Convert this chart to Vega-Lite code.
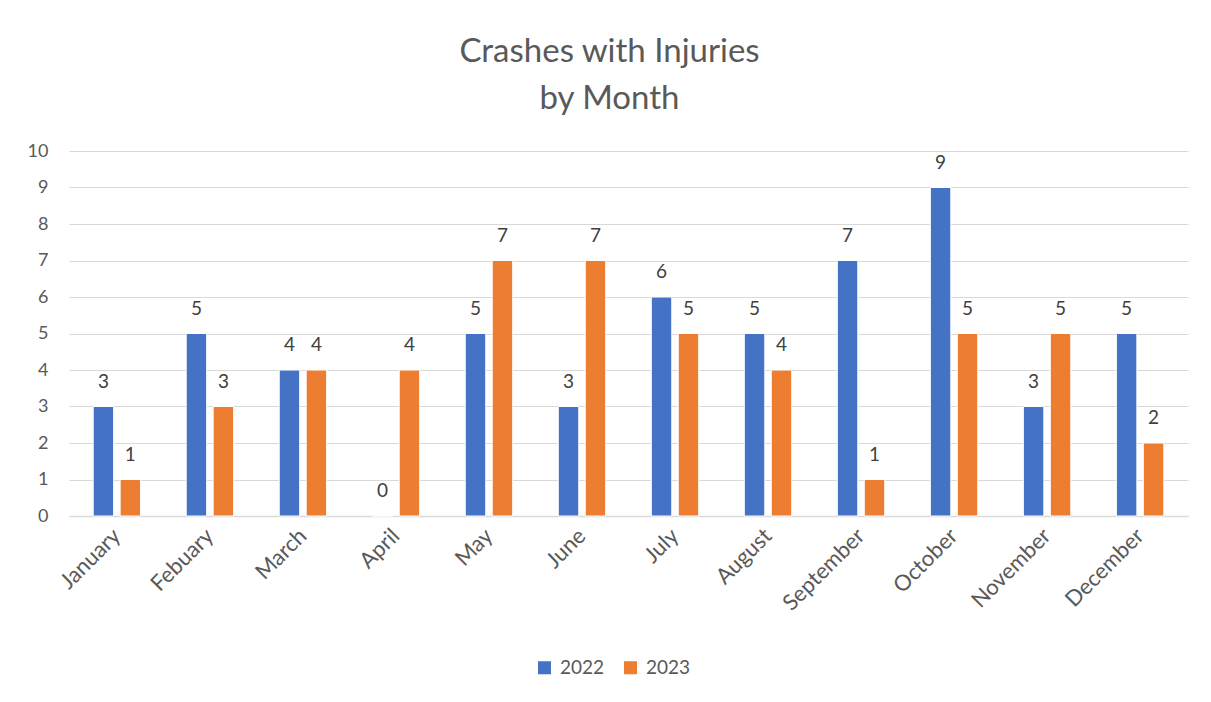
{
  "$schema": "https://vega.github.io/schema/vega-lite/v6.json",
  "autosize": "none",
  "width": 1119,
  "height": 365,
  "padding": {"left": 69, "top": 151, "right": 23, "bottom": 186},
  "background": "white",
  "title": {
    "text": ["Crashes with Injuries", "by Month"],
    "anchor": "middle",
    "frame": "group",
    "dx": -19,
    "offset": 26,
    "fontSize": 33,
    "fontWeight": "normal",
    "font": "Lato",
    "color": "#595959",
    "lineHeight": 47
  },
  "data": {
    "values": [
      {"month": "January", "year": "2022", "count": 3},
      {"month": "January", "year": "2023", "count": 1},
      {"month": "Febuary", "year": "2022", "count": 5},
      {"month": "Febuary", "year": "2023", "count": 3},
      {"month": "March", "year": "2022", "count": 4},
      {"month": "March", "year": "2023", "count": 4},
      {"month": "April", "year": "2022", "count": 0},
      {"month": "April", "year": "2023", "count": 4},
      {"month": "May", "year": "2022", "count": 5},
      {"month": "May", "year": "2023", "count": 7},
      {"month": "June", "year": "2022", "count": 3},
      {"month": "June", "year": "2023", "count": 7},
      {"month": "July", "year": "2022", "count": 6},
      {"month": "July", "year": "2023", "count": 5},
      {"month": "August", "year": "2022", "count": 5},
      {"month": "August", "year": "2023", "count": 4},
      {"month": "September", "year": "2022", "count": 7},
      {"month": "September", "year": "2023", "count": 1},
      {"month": "October", "year": "2022", "count": 9},
      {"month": "October", "year": "2023", "count": 5},
      {"month": "November", "year": "2022", "count": 3},
      {"month": "November", "year": "2023", "count": 5},
      {"month": "December", "year": "2022", "count": 5},
      {"month": "December", "year": "2023", "count": 2}
    ]
  },
  "encoding": {
    "x": {
      "field": "month",
      "type": "nominal",
      "sort": null,
      "title": null,
      "scale": {"paddingInner": 0.49, "paddingOuter": 0.26},
      "axis": {
        "labelAngle": -45,
        "labelAlign": "right",
        "labelBaseline": "middle",
        "labelFontSize": 22,
        "labelFont": "Lato",
        "labelColor": "#595959",
        "labelPadding": 16,
        "ticks": false,
        "domainColor": "#D9D9D9",
        "domainWidth": 1.5
      }
    },
    "xOffset": {
      "field": "year",
      "type": "nominal",
      "scale": {"paddingInner": 0.24}
    },
    "y": {
      "field": "count",
      "type": "quantitative",
      "title": null,
      "scale": {"domain": [0, 10], "nice": false},
      "axis": {
        "values": [0, 1, 2, 3, 4, 5, 6, 7, 8, 9, 10],
        "labelFontSize": 18,
        "labelFont": "Lato",
        "labelColor": "#595959",
        "labelPadding": 21,
        "ticks": false,
        "domain": false,
        "gridColor": "#D9D9D9",
        "gridWidth": 1.2
      }
    }
  },
  "layer": [
    {
      "mark": {"type": "bar", "stroke": "white", "strokeWidth": 1},
      "encoding": {
        "color": {
          "field": "year",
          "type": "nominal",
          "scale": {"domain": ["2022", "2023"], "range": ["#4472C4", "#ED7D31"]},
          "legend": {
            "title": null,
            "orient": "none",
            "direction": "horizontal",
            "legendX": 466,
            "legendY": 507,
            "symbolType": "square",
            "symbolSize": 170,
            "symbolStrokeWidth": 0,
            "labelFontSize": 19,
            "labelFont": "Lato",
            "labelColor": "#595959",
            "columnPadding": 16,
            "labelOffset": 6
          }
        }
      }
    },
    {
      "mark": {
        "type": "text",
        "baseline": "bottom",
        "dy": -15,
        "fontSize": 19,
        "font": "Lato",
        "color": "#404040"
      },
      "encoding": {
        "text": {"field": "count", "type": "quantitative"}
      }
    }
  ],
  "config": {
    "view": {"stroke": null}
  }
}
